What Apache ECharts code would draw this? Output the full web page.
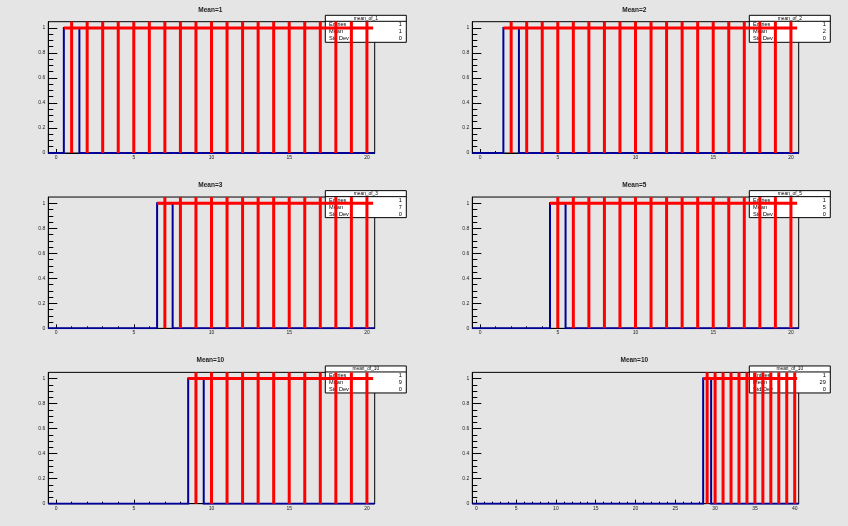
<!DOCTYPE html>
<html>
<head>
<meta charset="utf-8">
<script src="https://cdn.jsdelivr.net/npm/echarts@6/dist/echarts.min.js"></script>
<style>
html,body{margin:0;padding:0;background:#e5e5e5;}
#c{width:848px;height:526px;}
</style>
</head>
<body>
<div id="c"></div>
<script>
// ---- data ----
const padTitles = ['Mean=1', 'Mean=2', 'Mean=3', 'Mean=5', 'Mean=10', 'Mean=10'];
const statNames = ['mean_of_1', 'mean_of_2', 'mean_of_3', 'mean_of_5', 'mean_of_10', 'mean_of_10'];
const statEntries = [1, 1, 1, 1, 1, 1];
const statMeans = [1, 2, 7, 5, 9, 29];
const statStdDevs = [0, 0, 0, 0, 0, 0];
const xMins = [-0.5, -0.5, -0.5, -0.5, -0.5, -0.5];
const xMaxs = [20.5, 20.5, 20.5, 20.5, 20.5, 40.5];
const yMin = 0, yMax = 1.05;

// histogram bin contents, bin centres 0,1,2,...
const hist1 = [0,1,0,0,0,0,0,0,0,0,0,0,0,0,0,0,0,0,0,0,0];
const hist2 = [0,0,1,0,0,0,0,0,0,0,0,0,0,0,0,0,0,0,0,0,0];
const hist3 = [0,0,0,0,0,0,0,1,0,0,0,0,0,0,0,0,0,0,0,0,0];
const hist4 = [0,0,0,0,0,1,0,0,0,0,0,0,0,0,0,0,0,0,0,0,0];
const hist5 = [0,0,0,0,0,0,0,0,0,1,0,0,0,0,0,0,0,0,0,0,0];
const hist6 = [0,0,0,0,0,0,0,0,0,0,0,0,0,0,0,0,0,0,0,0,0,0,0,0,0,0,0,0,0,1,0,0,0,0,0,0,0,0,0,0,0];

// red vertical marker positions (full frame height)
const red1 = [1,2,3,4,5,6,7,8,9,10,11,12,13,14,15,16,17,18,19,20];
const red2 = [2,3,4,5,6,7,8,9,10,11,12,13,14,15,16,17,18,19,20];
const red3 = [7,8,9,10,11,12,13,14,15,16,17,18,19,20];
const red4 = [5,6,7,8,9,10,11,12,13,14,15,16,17,18,19,20];
const red5 = [9,10,11,12,13,14,15,16,17,18,19,20];
const red6 = [29,30,31,32,33,34,35,36,37,38,39,40];
// red horizontal level line: [start, end] at y = 1
const redLevel = 1;
const redH1 = [0.5, 20.4];
const redH2 = [1.5, 20.4];
const redH3 = [6.5, 20.4];
const redH4 = [4.5, 20.4];
const redH5 = [8.5, 20.4];
const redH6 = [28.5, 40.3];

// tick labels / tick positions
const xMajor20 = [0, 5, 10, 15, 20];
const xMinor20 = [0,1,2,3,4,5,6,7,8,9,10,11,12,13,14,15,16,17,18,19,20];
const xMajor40 = [0, 5, 10, 15, 20, 25, 30, 35, 40];
const xMinor40 = [0,1,2,3,4,5,6,7,8,9,10,11,12,13,14,15,16,17,18,19,20,21,22,23,24,25,26,27,28,29,30,31,32,33,34,35,36,37,38,39,40];
const yMajor = [0, 0.2, 0.4, 0.6, 0.8, 1];
const yMinor = [0,0.05,0.1,0.15,0.2,0.25,0.3,0.35,0.4,0.45,0.5,0.55,0.6,0.65,0.7,0.75,0.8,0.85,0.9,0.95,1];

const hists = [hist1, hist2, hist3, hist4, hist5, hist6];
const reds = [red1, red2, red3, red4, red5, red6];
const redHs = [redH1, redH2, redH3, redH4, redH5, redH6];
const xMajors = [xMajor20, xMajor20, xMajor20, xMajor20, xMajor20, xMajor40];
const xMinors = [xMinor20, xMinor20, xMinor20, xMinor20, xMinor20, xMinor40];

// ---- layout ----
const padW = 424, padH = 526 / 3;
const fx = 48.3, fy = 21.7, fw = 326.4, fh = 131.3;
const FONT = 'Liberation Sans, Arial, sans-serif';
const BLUE = '#000099', RED = '#ff0000';

const grid = [], xAxis = [], yAxis = [], series = [], graphic = [];

for (let i = 0; i < 6; i++) {
  const col = i % 2, row = Math.floor(i / 2);
  const px = col * padW, py = row * padH;
  grid.push({
    left: px + fx, top: py + fy, width: fw, height: fh,
    show: true, borderColor: '#000', borderWidth: 1, backgroundColor: 'transparent'
  });
  xAxis.push({
    type: 'value', gridIndex: i, min: xMins[i], max: xMaxs[i], position: 'bottom',
    axisLine: { show: true, onZero: false, lineStyle: { color: '#000', width: 1 } },
    axisTick: { show: true, inside: true, length: 4, customValues: xMajors[i], lineStyle: { color: '#000', width: 1 } },
    axisLabel: { show: true, customValues: xMajors[i], fontSize: 5, color: '#222', fontFamily: FONT, margin: 2 },
    splitLine: { show: false }
  });
  xAxis.push({
    type: 'value', gridIndex: i, min: xMins[i], max: xMaxs[i], position: 'bottom',
    axisLine: { show: false, onZero: false },
    axisTick: { show: true, inside: true, length: 2, customValues: xMinors[i], lineStyle: { color: '#000', width: 1 } },
    axisLabel: { show: false },
    splitLine: { show: false }
  });
  yAxis.push({
    type: 'value', gridIndex: i, min: yMin, max: yMax, position: 'left',
    axisLine: { show: true, onZero: false, lineStyle: { color: '#000', width: 1 } },
    axisTick: { show: true, inside: true, length: 9, customValues: yMajor, lineStyle: { color: '#000', width: 1 } },
    axisLabel: { show: true, customValues: yMajor, fontSize: 5, color: '#222', fontFamily: FONT, margin: 3 },
    splitLine: { show: false }
  });
  yAxis.push({
    type: 'value', gridIndex: i, min: yMin, max: yMax, position: 'left',
    axisLine: { show: false, onZero: false },
    axisTick: { show: true, inside: true, length: 5, customValues: yMinor, lineStyle: { color: '#000', width: 1 } },
    axisLabel: { show: false },
    splitLine: { show: false }
  });

  const h = hists[i];
  const pts = [];
  for (let b = 0; b < h.length; b++) {
    pts.push([b - 0.5, h[b]]);
    pts.push([b + 0.5, h[b]]);
  }
  series.push({
    type: 'line', xAxisIndex: 2 * i, yAxisIndex: 2 * i, data: pts,
    symbol: 'none', animation: false, z: 2,
    lineStyle: { color: BLUE, width: 2, join: 'miter' }
  });
  series.push({
    type: 'bar', xAxisIndex: 2 * i, yAxisIndex: 2 * i,
    data: reds[i].map(x => [x, yMax]), barWidth: 3, animation: false, z: 3,
    itemStyle: { color: RED }
  });
  series.push({
    type: 'line', xAxisIndex: 2 * i, yAxisIndex: 2 * i,
    data: [[redHs[i][0], redLevel], [redHs[i][1], redLevel]],
    symbol: 'none', animation: false, z: 4,
    lineStyle: { color: RED, width: 3, cap: 'butt' }
  });

  graphic.push({
    type: 'text', z: 5, x: px + 210.3, y: py + 10,
    style: { text: padTitles[i], font: 'bold 6.5px ' + FONT, fill: '#222', align: 'center', verticalAlign: 'middle' }
  });
  const bx = px + 325.3, by = py + 15.3, bw = 81, bh = 27;
  graphic.push({
    type: 'rect', z: 1, shape: { x: bx, y: by, width: bw, height: bh },
    style: { fill: '#fff', stroke: '#000', lineWidth: 1 }
  });
  graphic.push({
    type: 'line', z: 1, shape: { x1: bx, y1: by + 6, x2: bx + bw, y2: by + 6 },
    style: { stroke: '#000', lineWidth: 1 }
  });
  graphic.push({
    type: 'text', z: 1, x: bx + bw / 2, y: by + 3.2,
    style: { text: statNames[i], font: '4.8px ' + FONT, fill: '#000', align: 'center', verticalAlign: 'middle' }
  });
  const rows = [['Entries', statEntries[i]], ['Mean', statMeans[i]], ['Std Dev', statStdDevs[i]]];
  rows.forEach((r, k) => {
    const ty = by + 9.6 + k * 7;
    graphic.push({
      type: 'text', z: 1, x: bx + 3.7, y: ty,
      style: { text: r[0], font: '5.6px ' + FONT, fill: '#000', align: 'left', verticalAlign: 'middle' }
    });
    graphic.push({
      type: 'text', z: 1, x: bx + bw - 4.5, y: ty,
      style: { text: String(r[1]), font: '5.6px ' + FONT, fill: '#000', align: 'right', verticalAlign: 'middle' }
    });
  });
}

const chart = echarts.init(document.getElementById('c'), null, { renderer: 'canvas' });
chart.setOption({
  backgroundColor: '#e5e5e5',
  animation: false,
  grid, xAxis, yAxis, series, graphic
});
</script>
</body>
</html>
